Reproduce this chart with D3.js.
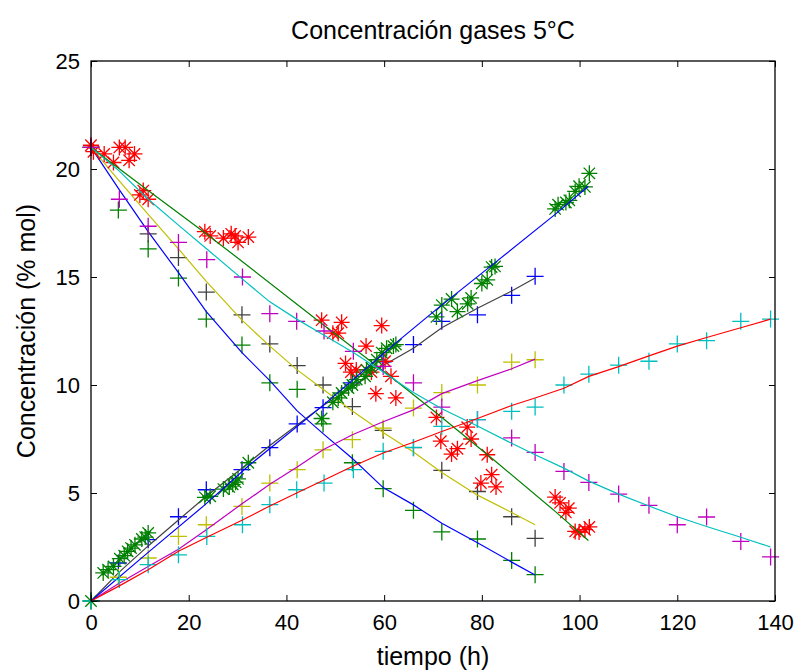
<!DOCTYPE html>
<html>
<head>
<meta charset="utf-8">
<script src="https://cdn.jsdelivr.net/npm/d3@7"></script>
<style>
  body { margin: 0; background: #fff; }
  text { font-family: "Liberation Sans", Arial, sans-serif; }
</style>
</head>
<body>
<div id="chart"></div>
<script>
// sample times (h) for runs A and B
const tAB = [0, 5.6, 11.7, 17.9, 23.6, 30.9, 36.6, 42.2, 47.5, 53.5, 59.8, 66, 71.8, 79.1, 86.1, 90.9]

// run A : O2 data (green +), CO2 data (blue +), models (blue / gray lines)
const o2DataA  = [21, 18.1, 16.3, 14.95, 13.05, 11.85, 10.1, 9.8, 8.2, 6.4, 5.2, 4.2, 3.2, 2.87, 1.88, 1.22]
const co2DataA = [0, 1.76, 2.84, 3.9, 5.15, 6.08, 7.1, 8.2, 8.95, 10.1, 11.07, 11.87, 12.95, 13.25, 14.15, 15.03]
const o2ModelA  = [21, 19.1, 17.1, 15.2, 13.4, 11.5, 10.2, 8.8, 7.75, 6.6, 5.25, 4.45, 3.6, 2.7, 1.8, 1.2]
const co2ModelA = [0, 1.3, 2.55, 3.75, 4.85, 6.15, 7.2, 8.15, 9.05, 9.9, 10.9, 11.7, 12.65, 13.55, 14.35, 14.95]

// run B : O2 data (gray +), CO2 data (yellow +), models (yellow / magenta lines)
const o2DataB  = [21, null, 17.0, 15.9, 14.3, 13.25, 11.9, 10.9, 10.0, 9.0, 7.9, 7.1, 6.05, 5.07, 3.9, 2.9]
const co2DataB = [0, 1.1, 1.99, 2.99, 3.53, 4.38, 5.46, 6.08, 7.0, 7.47, 8.0, 8.93, 9.65, 10.0, 11.06, 11.17]
const o2ModelB  = [21, 19.5, 17.9, 16.3, 14.8, 13.0, 11.8, 10.7, 9.8, 8.8, 7.8, 6.9, 5.95, 4.9, 4.1, 3.53]
const co2ModelB = [0, 0.8, 1.6, 2.4, 3.3, 4.5, 5.4, 6.2, 7.0, 7.7, 8.3, 8.85, 9.6, 10.2, 10.75, 11.2]

// run C : O2 data (red *), CO2 data (green *), models (green / blue lines)
const tO2C  = [0, 0.5, 2.7, 4.6, 5.8, 7.0, 7.8, 8.9, 10.0, 10.7, 11.7,
  23.3, 24.4, 27.1, 28.7, 29.5, 30.1, 32.2,
  47.2, 49.5, 50.6, 51.3, 52.1, 53.2, 54.3, 56.3, 57.4, 58.3, 59.5, 60.2, 61.4, 62.4,
  70.7, 71.6, 73.8, 75.0, 77.0, 77.8, 79.8, 81.1, 82.0, 82.9,
  95.0, 96.0, 97.2, 97.8, 99.1, 99.9, 101.1, 102]
const o2DataC = [21.1, 20.8, 20.7, 20.3, 21.0, 21.0, 20.4, 20.7, 18.8, 19.0, 18.6,
  17.1, 16.9, 16.8, 17.0, 16.9, 16.6, 16.85,
  13.0, 12.4, 12.4, 12.9, 11.0, 10.6, 10.7, 11.8, 10.6, 9.6, 12.75, 11.1, 10.4, 9.4,
  8.5, 7.4, 6.8, 7.05, 8.05, 7.5, 5.46, 6.77, 5.85, 5.28,
  4.81, 4.54, 4.1, 4.3, 3.22, 3.19, 3.3, 3.43]
const tCO2C = [0, 2.5, 3.5, 4.6, 5.9, 6.8, 7.5, 8.2, 9.0, 10.4, 11.1, 11.7,
  23.3, 24.4, 27.1, 28.3, 29.0, 29.6, 30.1, 32.2,
  47.2, 49.5, 50.6, 51.3, 52.7, 53.5, 54.4, 56.1, 56.4, 57.4, 58.5, 59.5, 60.5, 61.9, 62.4,
  70.7, 71.8, 73.8, 75.0, 77.1, 77.8, 80.0, 81.1, 82.0, 82.7,
  95.0, 95.6, 97.2, 97.9, 99.1, 99.9, 101.1, 102]
const co2DataC = [0, 1.3, 1.45, 1.6, 1.96, 2.1, 2.3, 2.45, 2.6, 2.87, 2.96, 3.15,
  4.8, 4.85, 5.18, 5.28, 5.4, 5.5, 5.65, 6.4,
  8.45, 9.2, 9.4, 9.63, 9.86, 10.0, 10.25, 10.4, 10.7, 10.8, 11.17, 11.5, 11.7, 11.8, 11.87,
  13.15, 13.7, 13.98, 13.4, 13.76, 14.03, 14.7, 14.87, 15.46, 15.49,
  18.15, 18.35, 18.45, 18.55, 18.96, 19.2, 19.17, 19.8]
const tModelC   = [0, 11.7, 23.3, 32.2, 47.2, 62.4, 70.7, 82.9, 95, 101.8]
const o2ModelC  = [21, 19.0, 17.05, 15.5, 12.85, 10.2, 8.7, 6.45, 4.15, 2.8]
const co2ModelC = [0, 2.25, 4.45, 6.25, 9.0, 11.95, 13.5, 15.7, 17.9, 19.2]

// run D : O2 data (magenta +), CO2 data (cyan +), models (cyan / red lines)
const tD = [0, 5.8, 11.7, 17.9, 23.7, 31, 36.6, 42.1, 47.7, 53.7, 59.8, 66, 71.8, 79.1, 86.1, 90.9, 96.8, 101.9, 108, 114.2, 120, 126, 133, 139.1]
const o2DataD  = [21, 18.6, 17.35, 16.6, 15.8, 15.0, 13.3, 12.95, 12.5, 11.56, 10.86, 10.1, 8.98, 8.4, 7.55, 6.88, 6.0, 5.49, 4.95, 4.43, 3.53, 3.89, 2.76, 2.04]
const co2DataD = [0, 0.99, 1.68, 2.14, 2.99, 3.53, 4.46, 5.15, 5.46, 6.08, 6.93, 7.11, 8.08, 8.4, 8.78, 8.98, 10.0, 10.5, 10.92, 11.1, 11.9, 12.05, 12.95, 13.05]
const o2ModelD  = [21, 19.9, 18.6, 17.4, 16.3, 14.9, 13.85, 13.05, 12.3, 11.5, 10.6, 9.65, 8.9, 8.1, 7.3, 6.77, 6.15, 5.55, 4.95, 4.4, 3.9, 3.45, 2.95, 2.5]
const co2ModelD = [0, 0.7, 1.45, 2.3, 2.95, 3.75, 4.4, 5.0, 5.6, 6.25, 6.85, 7.35, 7.85, 8.45, 9.05, 9.4, 9.85, 10.4, 10.85, 11.35, 11.8, 12.2, 12.65, 13.05]

const xTicks = [0, 20, 40, 60, 80, 100, 120, 140]
const yTicks = [0, 5, 10, 15, 20, 25]

// matlab default colour order
const C = {b: "#0000ff", g: "#008000", r: "#ff0000", c: "#00bfbf", m: "#bf00bf", y: "#bfbf00", k: "#404040"}

const W = 800, H = 671
const margin = {top: 61, right: 25, bottom: 70, left: 91}
const width = W - margin.left - margin.right,
  height = H - margin.top - margin.bottom

const svg = d3.select("#chart").append("svg")
  .attr("width", W).attr("height", H)

const g = svg.append("g")
  .attr("transform", `translate(${margin.left},${margin.top})`)

const x = d3.scaleLinear().domain([0, 140]).range([0, width])
const y = d3.scaleLinear().domain([0, 25]).range([height, 0])

function pts(ts, vs) {
  return ts.map((t, i) => [t, vs[i]]).filter(p => p[1] != null)
}

const line = d3.line().x(d => x(d[0])).y(d => y(d[1]))

const plusPath = "M-8.5,0H8.5M0,-8.5V8.5"
const starPath = "M-8,0H8M0,-8V8M-5.7,-5.7L5.7,5.7M-5.7,5.7L5.7,-5.7"

function drawLine(ts, vs, col) {
  g.append("path")
    .datum(pts(ts, vs))
    .attr("fill", "none")
    .attr("stroke", col)
    .attr("stroke-width", 1.2)
    .attr("d", line)
}

function drawMarks(ts, vs, col, shape) {
  g.append("g").selectAll("path")
    .data(pts(ts, vs))
    .join("path")
      .attr("transform", d => `translate(${x(d[0])},${y(d[1])})`)
      .attr("d", shape)
      .attr("fill", "none")
      .attr("stroke", col)
      .attr("stroke-width", 1.3)
}

// run A
drawMarks(tAB, o2DataA, C.g, plusPath)
drawMarks(tAB, co2DataA, C.b, plusPath)
drawLine(tAB, o2ModelA, C.b)
drawLine(tAB, co2ModelA, C.k)
// run B
drawMarks(tAB, o2DataB, C.k, plusPath)
drawMarks(tAB, co2DataB, C.y, plusPath)
drawLine(tAB, o2ModelB, C.y)
drawLine(tAB, co2ModelB, C.m)
// run C
drawMarks(tO2C, o2DataC, C.r, starPath)
drawMarks(tCO2C, co2DataC, C.g, starPath)
drawLine(tModelC, o2ModelC, C.g)
drawLine(tModelC, co2ModelC, C.b)
// run D
drawMarks(tD, o2DataD, C.m, plusPath)
drawMarks(tD, co2DataD, C.c, plusPath)
drawLine(tD, o2ModelD, C.c)
drawLine(tD, co2ModelD, C.r)

// axes, ticks pointing inwards like matlab
const ax = g.append("g").attr("class", "axes")
ax.append("g")
  .attr("transform", `translate(0,${height})`)
  .call(d3.axisBottom(x).tickValues(xTicks).tickSizeInner(-6).tickSizeOuter(0).tickPadding(13))
ax.append("g")
  .call(d3.axisLeft(y).tickValues(yTicks).tickSizeInner(-6).tickSizeOuter(0).tickPadding(11))
ax.append("g")
  .call(d3.axisTop(x).tickValues(xTicks).tickSizeInner(-6).tickSizeOuter(0).tickFormat(""))
ax.append("g")
  .attr("transform", `translate(${width},0)`)
  .call(d3.axisRight(y).tickValues(yTicks).tickSizeInner(-6).tickSizeOuter(0).tickFormat(""))

ax.selectAll(".domain").remove()
ax.selectAll("line").attr("stroke", "#000")
ax.selectAll("text")
  .attr("fill", "#000")
  .style("font-size", "22px")
  .style("font-family", "'Liberation Sans', Arial, sans-serif")

g.append("rect")
  .attr("width", width).attr("height", height)
  .attr("fill", "none").attr("stroke", "#000").attr("stroke-width", 1.3)

// texts
svg.append("text")
  .attr("x", margin.left + width / 2).attr("y", 39)
  .attr("text-anchor", "middle")
  .style("font-size", "25px")
  .text("Concentración gases 5°C")

svg.append("text")
  .attr("x", margin.left + width / 2).attr("y", 665)
  .attr("text-anchor", "middle")
  .style("font-size", "25px")
  .text("tiempo (h)")

svg.append("text")
  .attr("transform", `translate(35,${margin.top + height / 2}) rotate(-90)`)
  .attr("text-anchor", "middle")
  .style("font-size", "25px")
  .text("Concentración (% mol)")
</script>
</body>
</html>
